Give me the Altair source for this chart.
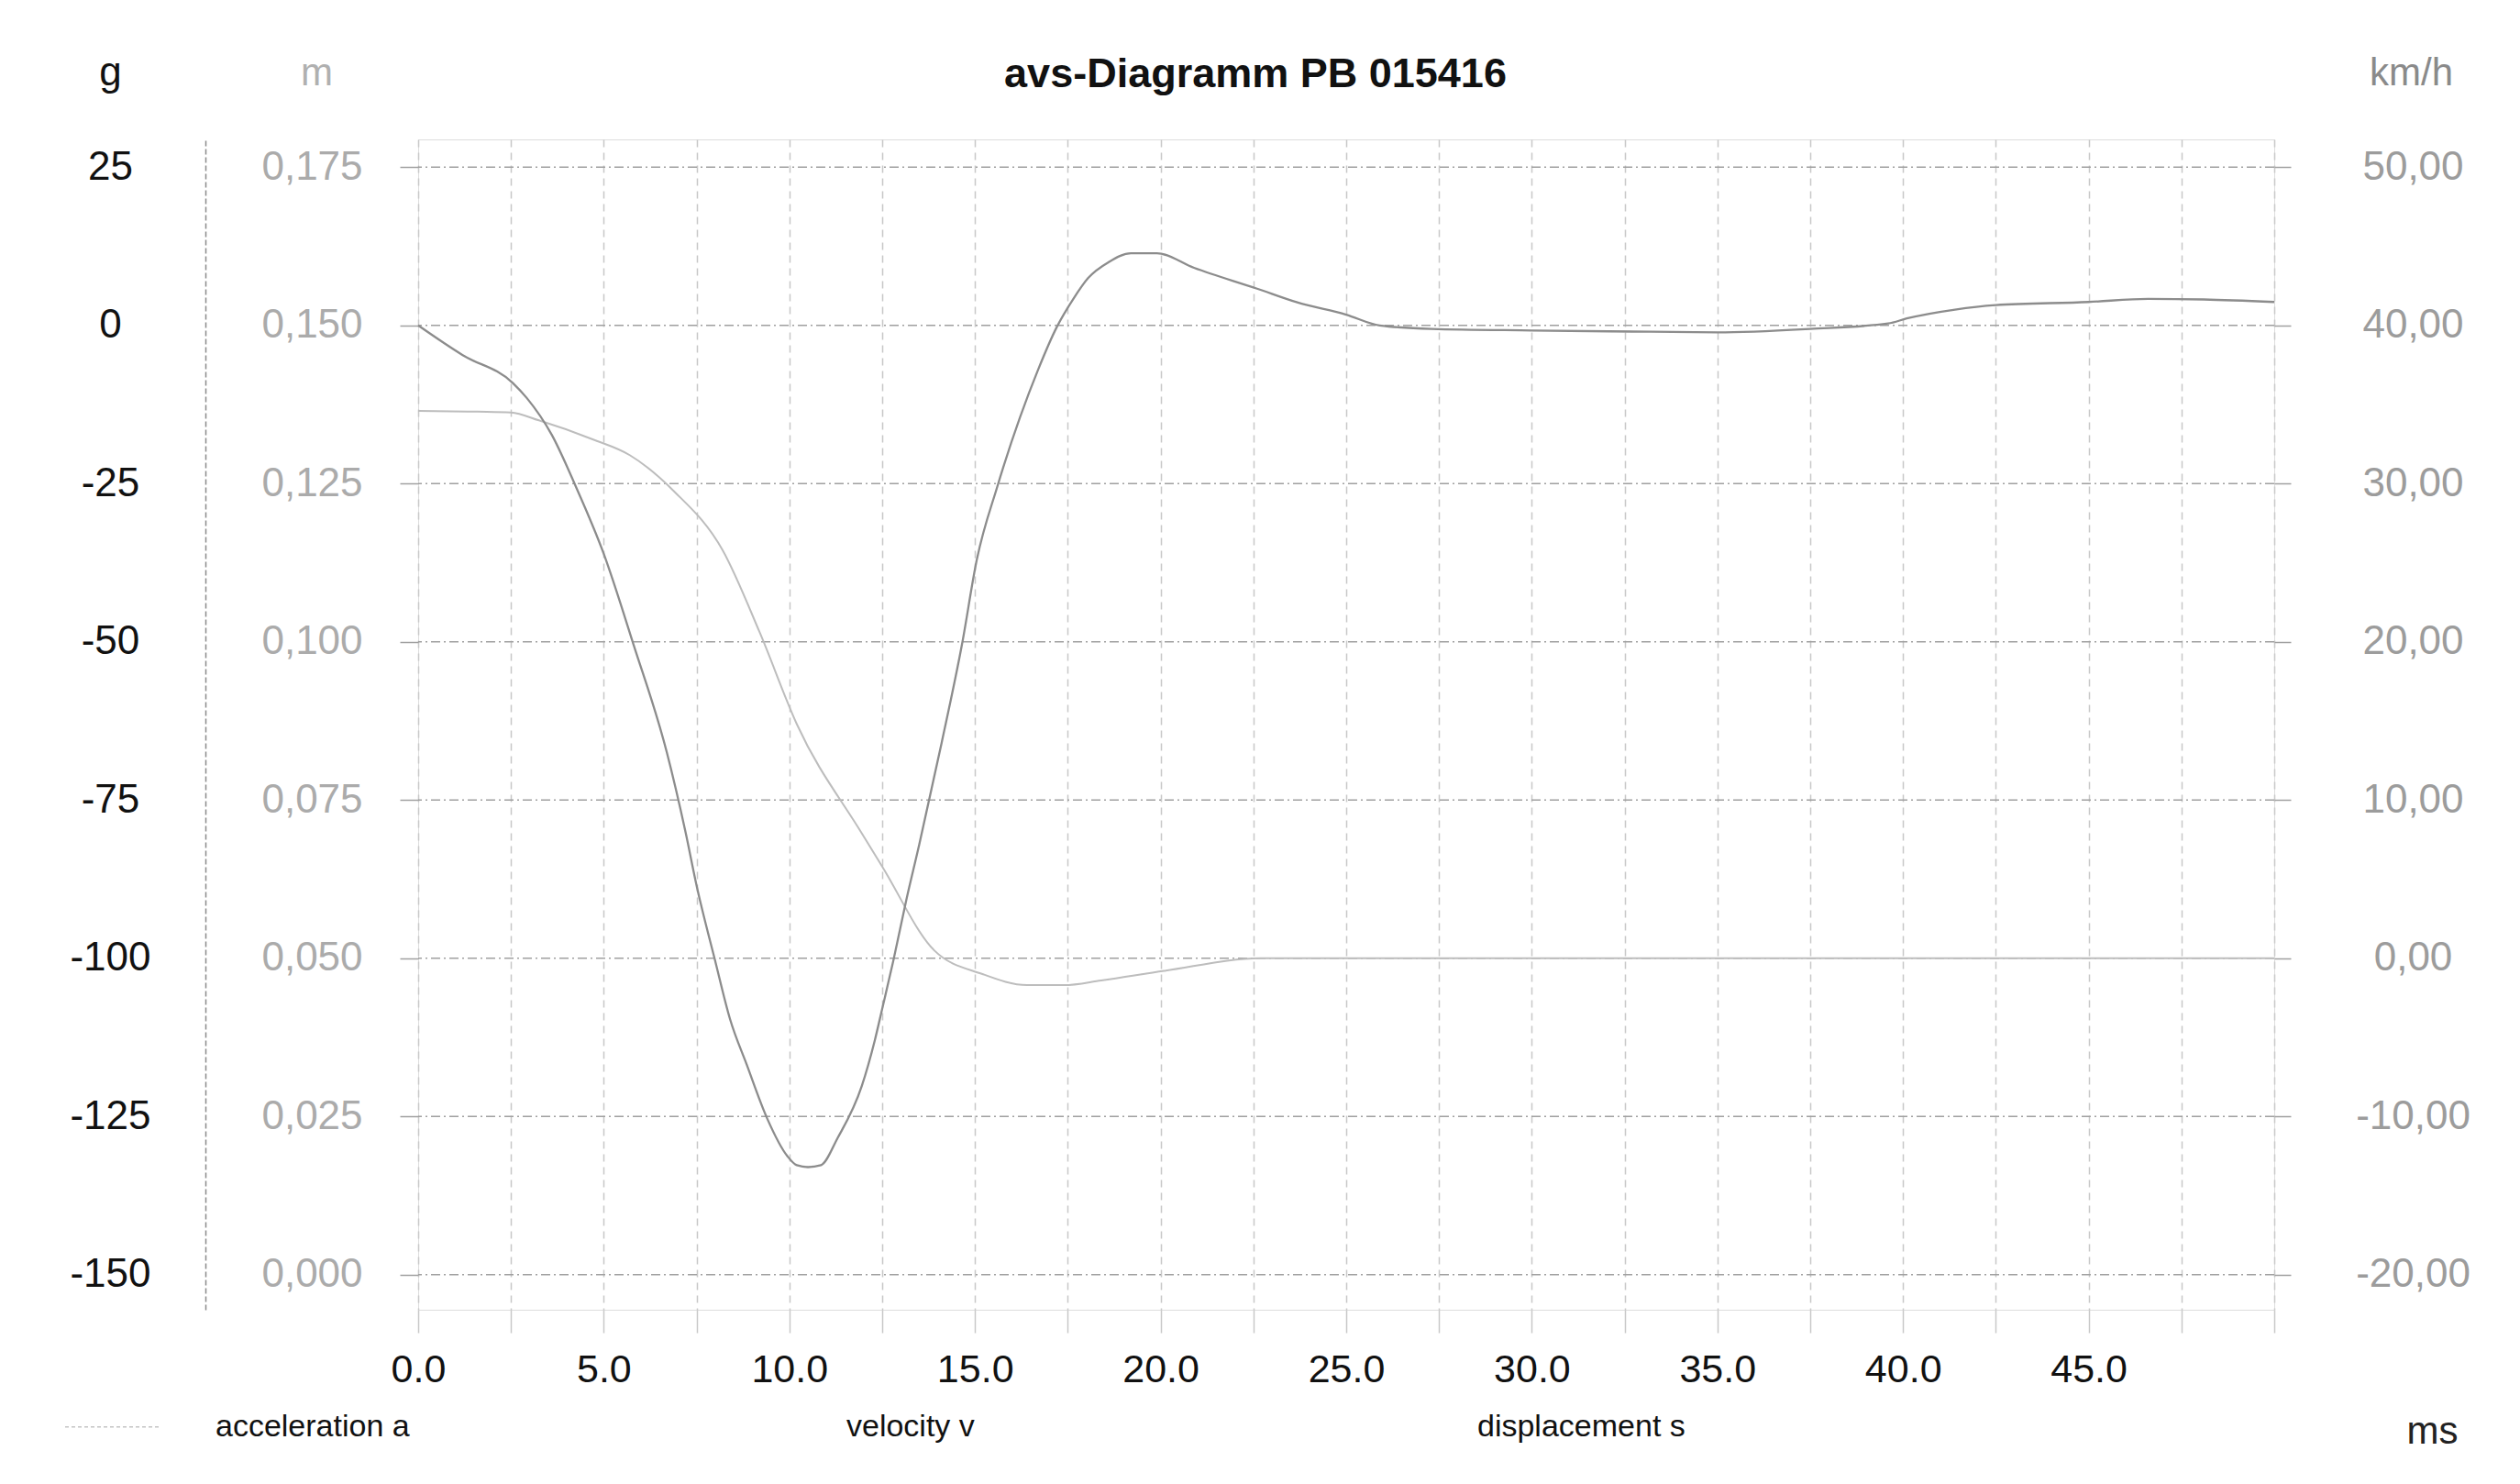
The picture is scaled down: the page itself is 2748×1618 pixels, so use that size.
import altair as alt
import pandas as pd

# ---------------- data ----------------
time_acc = [0, 1.2, 2.55, 2.93, 3.6, 4.25, 5.0, 5.8, 6.7, 7.2, 7.5, 8.0, 8.4, 8.85,
            9.4, 9.95, 10.2, 10.5, 10.85, 11.3, 11.95, 12.3, 12.5, 12.8, 13.15, 13.5,
            14.1, 14.65, 15.05, 15.6, 16.7, 17.2, 17.65, 18.05, 18.6, 19.2, 19.9, 20.9,
            22.6, 23.7, 25.0, 25.9, 27.3, 30.0, 33.2, 35.0, 37.5, 39.6, 40.1, 41.4,
            42.5, 45.0, 46.6, 48.1, 50.0]
acc_g = [0, -4.7, -9.1, -11.5, -17.3, -25.5, -36.1, -50.4, -67.5, -80.0, -88.5, -100.4,
         -109.6, -116.8, -125.3, -131.3, -132.7, -133.0, -132.7, -128.4, -120.2, -113.0,
         -108.0, -100.4, -90.8, -82.0, -66.0, -50.4, -37.0, -25.5, -7.0, -0.3, 4.2, 7.5,
         10.0, 11.4, 11.4, 9.1, 5.8, 3.6, 1.7, 0.0, -0.55, -0.8, -1.0, -1.1, -0.55, 0.3,
         1.1, 2.5, 3.2, 3.7, 4.2, 4.1, 3.7]

time_vel = [0, 1.6, 2.5, 3.25, 4.7, 5.7, 6.9, 8.2, 9.2, 10.2, 11.95, 12.5, 13.9,
            15.2, 16.4, 17.4, 18.4, 20.1, 22.7, 25.0, 30.0, 35.0, 40.0, 45.0, 50.0]
vel_kmh = [34.6, 34.55, 34.5, 34.0, 32.8, 31.8, 29.5, 25.8, 20.6, 14.8, 7.9, 5.8,
           0.5, -1.0, -1.7, -1.7, -1.4, -0.8, 0.0, 0.0, 0.0, 0.0, 0.0, 0.0, 0.0]

g_ticks = [-150, -125, -100, -75, -50, -25, 0, 25]
m_ticks = [0.0, 0.025, 0.05, 0.075, 0.1, 0.125, 0.15, 0.175]
v_ticks = [-20, -10, 0, 10, 20, 30, 40, 50]
x_ticks = [0, 2.5, 5, 7.5, 10, 12.5, 15, 17.5, 20, 22.5, 25, 27.5, 30, 32.5, 35, 37.5,
           40, 42.5, 45, 47.5, 50]

series_names = ["acceleration a", "velocity v", "displacement s"]
# legend sample colours: only the acceleration sample is visible in the scan
series_colors = ["#8c8c8c", "#ffffff", "#ffffff"]
VEL_COLOR = "#bdbdbd"

g_domain = [-155.54, 29.39]
m_domain = [-0.00554, 0.17939]
v_domain = [-22.22, 51.76]

FONT = "Liberation Sans"
W, H = 2024, 1276
GRID_H = "#a0a0a0"
GRID_V = "#c8c8c8"
MINUS = "\u2212"

acc_df = pd.DataFrame({"t": time_acc, "value": acc_g, "series": series_names[0]})
vel_df = pd.DataFrame({"t": time_vel, "value": vel_kmh, "series": series_names[1]})
grid_df = pd.DataFrame({"m": m_ticks})

x_enc = alt.X(
    "t:Q",
    scale=alt.Scale(domain=[0, 50], nice=False, zero=False),
    axis=alt.Axis(
        values=x_ticks,
        labelExpr="(datum.value % 5 == 0 && datum.value < 50) ? format(datum.value, '.1f') : ''",
        labelFlush=False, labelOverlap=False,
        grid=True, gridColor=GRID_V, gridDash=[8, 6], gridWidth=1.5,
        ticks=True, tickSize=25, tickColor=GRID_V, tickWidth=1.5,
        domain=False,
        labelFont=FONT, labelFontSize=43, labelColor="#111111", labelPadding=19,
        title="ms", titleAngle=0, titleX=2196, titleY=132, titleAlign="center",
        titleBaseline="middle", titleFont=FONT, titleFontSize=42,
        titleFontWeight="normal", titleColor="#222222",
    ),
)

color = alt.Color(
    "series:N",
    scale=alt.Scale(domain=series_names, range=series_colors),
    legend=alt.Legend(
        orient="none", legendX=-386, legendY=1350, direction="horizontal",
        columns=3, gridAlign="all", columnPadding=294, padding=0,
        symbolType="stroke", symbolSize=11025, symbolOpacity=0.5,
        symbolStrokeWidth=1.5, symbolDash=[4, 3],
        labelFont=FONT, labelFontSize=34, labelColor="#111111", labelOffset=58,
        labelLimit=400, title=None,
    ),
)

grid = alt.Chart(grid_df).mark_rule(
    color=GRID_H, strokeWidth=1.6, strokeDash=[10, 4, 2, 4]
).encode(
    y=alt.Y(
        "m:Q",
        scale=alt.Scale(domain=m_domain, nice=False, zero=False),
        axis=alt.Axis(
            orient="left", offset=0, values=m_ticks, grid=False, domain=False,
            ticks=True, tickSize=20, tickColor=GRID_H, tickWidth=1.5,
            labelExpr="replace(format(datum.value, '.3f'), '.', ',')",
            labelAlign="center", labelBaseline="middle", labelPadding=96,
            labelFont=FONT, labelFontSize=44, labelColor="#ababab",
            title="m", titleAngle=0, titleX=-111, titleY=-73, titleAlign="center",
            titleBaseline="middle", titleFont=FONT, titleFontSize=42,
            titleFontWeight="normal", titleColor="#b0b0b0",
        ),
    )
)

vel = alt.Chart(vel_df).mark_line(
    strokeWidth=2.0, interpolate="monotone", color=VEL_COLOR
).encode(
    x=x_enc,
    y=alt.Y(
        "value:Q",
        scale=alt.Scale(domain=v_domain, nice=False, zero=False),
        axis=alt.Axis(
            orient="right", offset=0, values=v_ticks, grid=False, domain=False,
            ticks=True, tickSize=18, tickColor=GRID_H, tickWidth=1.5,
            labelExpr="replace(replace(format(datum.value, '.2f'), '.', ','), '" + MINUS + "', '-')",
            labelAlign="center", labelBaseline="middle", labelPadding=133,
            labelFont=FONT, labelFontSize=44, labelColor="#9c9c9c",
            title="km/h", titleAngle=0, titleX=149, titleY=-73, titleAlign="center",
            titleBaseline="middle", titleFont=FONT, titleFontSize=42,
            titleFontWeight="normal", titleColor="#8a8a8a",
        ),
    ),
)

acc = alt.Chart(acc_df).mark_line(strokeWidth=2.3, interpolate="monotone").encode(
    x=x_enc,
    y=alt.Y(
        "value:Q",
        scale=alt.Scale(domain=g_domain, nice=False, zero=False),
        axis=alt.Axis(
            orient="left", offset=232, values=g_ticks, grid=False,
            domain=True, domainColor="#8a8a8a", domainDash=[6, 3], domainWidth=1.5,
            ticks=False, tickSize=0,
            labelExpr="replace(format(datum.value, 'd'), '" + MINUS + "', '-')",
            labelAlign="center", labelBaseline="middle", labelPadding=104,
            labelFont=FONT, labelFontSize=44, labelColor="#111111",
            title="g", titleAngle=0, titleX=-104, titleY=-73, titleAlign="center",
            titleBaseline="middle", titleFont=FONT, titleFontSize=44,
            titleFontWeight="normal", titleColor="#111111",
        ),
    ),
    color=color,
)

chart = (
    alt.layer(grid, vel, acc)
    .resolve_scale(y="independent")
    .properties(
        width=W, height=H,
        title=alt.TitleParams(
            "avs-Diagramm PB 015416", font=FONT, fontSize=45, fontWeight="bold",
            color="#111111", anchor="middle", dx=-99, offset=-69, baseline="middle",
        ),
        autosize=alt.AutoSizeParams(type="none"),
        padding={"left": 448, "top": 144, "right": 260, "bottom": 182},
    )
    .configure_view(stroke="#bdbdbd", strokeDash=[8, 5], strokeWidth=1.5)
    .configure(background="white")
)

chart.save("out.html", embed_options={"renderer": "svg", "actions": False})
